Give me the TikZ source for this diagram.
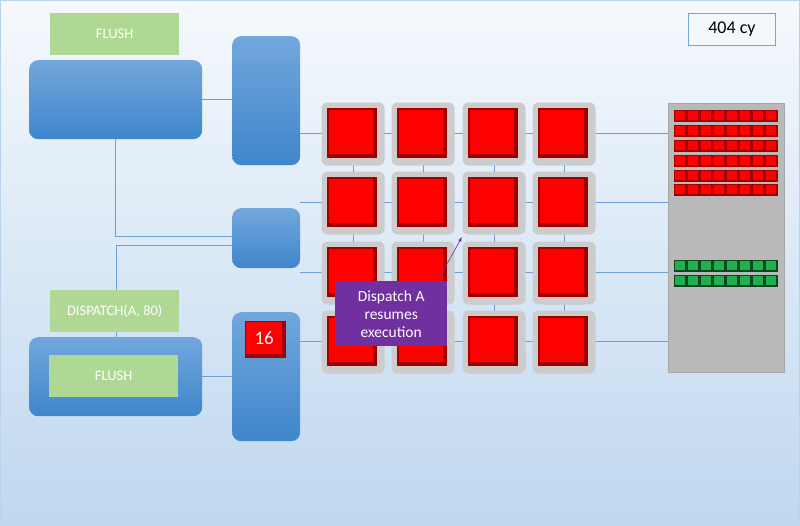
\documentclass[tikz,border=0pt]{standalone}
\usepackage{fontspec}
\setmainfont{Carlito}
\begin{document}
\begin{tikzpicture}[x=1pt,y=-1pt,
 blue/.style={rounded corners=9pt,top color=blue1,bottom color=blue2,draw=none,minimum width=#1},
 green/.style={fill=green1,text=white,font=\fontsize{14.5}{16}\selectfont,minimum width=129pt,minimum height=42pt,inner sep=0},
 wire/.style={draw=wirec,line width=0.8pt},
 cell/.style={fill=gray!40,rounded corners=6pt,minimum size=63pt,inner sep=0},
]
\definecolor{blue1}{HTML}{72A7DC}\definecolor{blue2}{HTML}{3F86CC}
\definecolor{green1}{HTML}{AED894}\definecolor{wirec}{HTML}{6B9FD6}
\definecolor{redd}{HTML}{A00000}\definecolor{grn}{HTML}{1FB050}
\definecolor{purp}{HTML}{7030A0}
\useasboundingbox (0,0) rectangle (800,525);
\shade[top color=white!93!blue1, bottom color=blue1!45] (0,0) rectangle (800,525);
\draw[blue1!50,line width=1pt] (0.5,0.5) rectangle (799.5,524.5);
% left top
\node[green,anchor=north west] (f1) at (50,13) {FLUSH};
\node[blue,minimum width=173pt,minimum height=79pt,anchor=north west] (b1) at (29,60) {};
\node[blue,minimum width=68pt,minimum height=129pt,anchor=north west] (t1) at (232,36) {};
\node[blue,minimum width=68pt,minimum height=60pt,anchor=north west] (s1) at (232,208) {};
\node[green,anchor=north west] (d1) at (50,290) {DISPATCH(A, 80)};
\node[blue,minimum width=173pt,minimum height=79pt,anchor=north west] (b2) at (29,337) {};
\node[green,anchor=north west] (f2) at (49,355) {FLUSH};
\node[blue,minimum width=68pt,minimum height=129pt,anchor=north west] (t2) at (232,312) {};
\coordinate (c1) at (115,236);\coordinate (c2) at (116,245);
\draw[wire] (b1.east) -- (t1.west|-b1.east);
\draw[wire] (b1.south-|c1) -- (c1) -- (s1.west|-c1);
\draw[wire] (d1.north-|c2) -- (c2) -- (s1.west|-c2);
\draw[wire] (d1.south-|c2) -- (b2.north-|c2);
\draw[wire] (b2.east|-f2.east) -- (t2.west|-f2.east);
% right panel
\node[fill=gray!55,draw=gray!70,minimum width=116pt,minimum height=269pt,anchor=north west,inner sep=0] (p) at (668,103) {};
% grid wires
\foreach \y in {133,202,272,341} \draw[wire] (300,\y) -- (p.west|-0,\y);
\foreach \x in {353,423,494,564} \draw[wire] (\x,133) -- (\x,341);
% cells
\foreach \x [count=\i] in {353,423,494,564}
 \foreach \y [count=\j] in {134,203,273,342} {
  \node[cell] (g\i\j) at (\x,\y) {};
  \fill[redd] (\x-26,\y-26) rectangle (\x+24,\y+24);
  \fill[red] (\x-24,\y-24) rectangle (\x+20,\y+20);
 }
% small squares
\foreach \y in {110,125,140,155,170,184}
 \foreach \k in {0,...,7} {\fill[redd] (674+13*\k,\y) rectangle +(13,12); \fill[red] (675+13*\k,\y+1) rectangle +(10,9);}
\foreach \y in {260,275}
 \foreach \k in {0,...,7} {\fill[black!60!grn] (674+13*\k,\y) rectangle +(13,12); \fill[grn] (675+13*\k,\y+1) rectangle +(10,9);}
% 16
\node[fill=redd,minimum width=41pt,minimum height=37pt,anchor=north west,inner sep=0] (n16) at (245,321) {};
\node[fill=red,minimum width=36pt,minimum height=32pt,inner sep=0,text=white,font=\fontsize{19}{21}\selectfont] at ([xshift=-1.5pt,yshift=1.5pt]n16.center) {16};
% callout
\node[fill=purp,text=white,align=center,font=\fontsize{15.5}{18}\selectfont,minimum width=112pt,minimum height=65pt,anchor=north west,inner sep=2pt] (cl) at (335,281) {Dispatch A\\resumes\\execution};
\coordinate (tip) at (462,237);
\draw[-latex,purp,line width=0.6pt] ([xshift=-10pt]cl.north east) -- (tip);
% 404 cy
\node[fill=white!92!blue1,draw=blue1,line width=0.8pt,minimum width=87pt,minimum height=32pt,anchor=north west,font=\fontsize{18}{20}\selectfont] (cy) at (688,13) {404 cy};
\end{tikzpicture}
\end{document}
